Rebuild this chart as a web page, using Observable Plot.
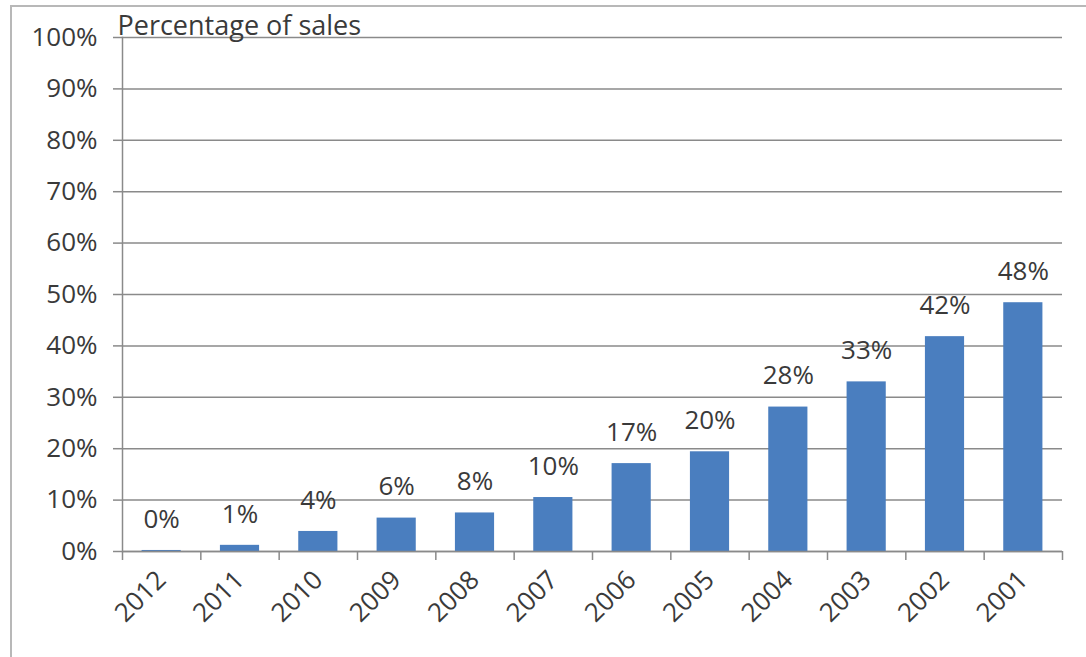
<!DOCTYPE html>
<html>
<head>
<meta charset="utf-8">
<script src="https://cdn.jsdelivr.net/npm/d3@7"></script>
<script src="https://cdn.jsdelivr.net/npm/@observablehq/plot@0.6"></script>
<style>
  html, body { margin: 0; padding: 0; background: #fff; }
  #wrap { position: relative; width: 1086px; height: 657px; overflow: hidden; }
  #frame { position: absolute; left: 10px; top: 5px; width: 1100px; height: 700px;
           border-left: 2px solid #b8b8b8; border-top: 2px solid #b8b8b8; box-sizing: border-box; }
  #chart { position: absolute; left: 0; top: 0; }
</style>
</head>
<body>
<div id="wrap"><div id="frame"></div><div id="chart"></div></div>
<script>
const years = ["2012","2011","2010","2009","2008","2007","2006","2005","2004","2003","2002","2001"];
const shares = [0.002, 0.012, 0.039, 0.065, 0.075, 0.105, 0.171, 0.194, 0.281, 0.33, 0.418, 0.484];
const labels = ["0%","1%","4%","6%","8%","10%","17%","20%","28%","33%","42%","48%"];
const yTicks = [0,0.1,0.2,0.3,0.4,0.5,0.6,0.7,0.8,0.9,1.0];
const yTitle = "Percentage of sales";

const data = years.map((y, i) => ({year: y, share: shares[i], label: labels[i]}));
const tickData = years.map(y => ({year: y, top: 0, bottom: -0.0175}));

const W = 1086, H = 657, mL = 122, mR = 24, mT = 37, mB = 106;
const step = (W - mL - mR) / years.length;
const font = "'Open Sans', Lato, sans-serif";
const grey = "#8a8a8a";

const chart = Plot.plot({
  width: W, height: H,
  marginLeft: mL, marginRight: mR, marginTop: mT, marginBottom: mB,
  style: {fontFamily: font, fontSize: "26px", color: "#3a3a3a", background: "transparent", overflow: "visible"},
  x: {domain: years, paddingInner: 0.5, paddingOuter: 0.25, round: false},
  y: {domain: [0, 1], ticks: yTicks},
  marks: [
    Plot.gridY(yTicks, {stroke: grey, strokeOpacity: 1, strokeWidth: 1.5}),
    Plot.axisY(yTicks, {tickFormat: d3.format(".0%"), tickSize: 9, tickPadding: 16, stroke: grey, strokeWidth: 1.5, fill: "#3a3a3a", fontSize: 26, label: null}),
    Plot.barY(data, {x: "year", y: "share", fill: "#4a7ebf"}),
    Plot.text(data, {x: "year", y: "share", text: "label", dy: -31, fill: "#3a3a3a", fontSize: 26}),
    Plot.ruleY([0], {stroke: grey, strokeWidth: 1.5}),
    Plot.frame({anchor: "left", stroke: grey, strokeWidth: 1.5}),
    Plot.ruleX(tickData.slice(0, 1), {x: "year", y1: "top", y2: "bottom", dx: -step / 2, stroke: grey, strokeWidth: 1.5}),
    Plot.ruleX(tickData, {x: "year", y1: "top", y2: "bottom", dx: step / 2, stroke: grey, strokeWidth: 1.5}),
    Plot.axisX({tickSize: 0, tickRotate: -45, tickPadding: 24, fill: "#3a3a3a", fontSize: 26, label: null}),
    Plot.text([yTitle], {frameAnchor: "top-left", textAnchor: "start", lineAnchor: "bottom", dx: -5, dy: -3, fill: "#3a3a3a", fontSize: 27})
  ]
});
document.getElementById("chart").appendChild(chart);
</script>
</body>
</html>
